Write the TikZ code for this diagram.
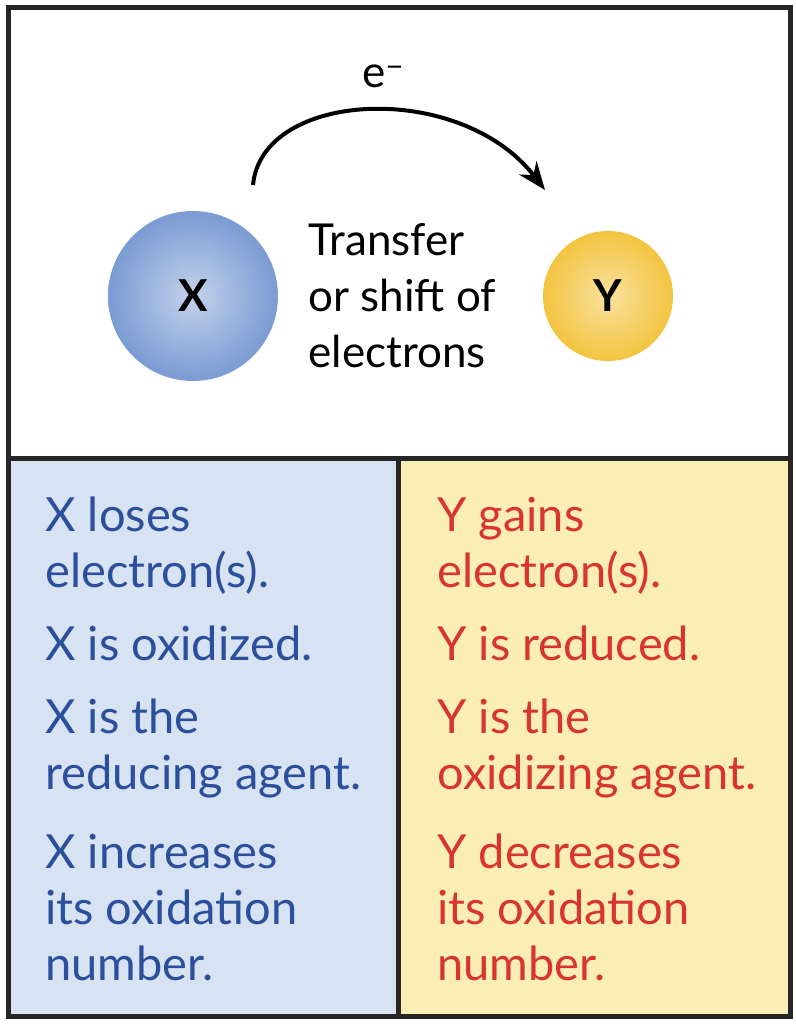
\documentclass[tikz,border=0pt]{standalone}
\usepackage{fontspec}
\setmainfont{Lato}
\usetikzlibrary{arrows.meta,positioning}
\definecolor{xblue}{HTML}{2B4F9C}
\definecolor{yred}{HTML}{D8352E}
\definecolor{panelblue}{HTML}{D7E2F2}
\definecolor{panelyellow}{HTML}{FBEEB2}
\definecolor{ballblue}{HTML}{7B9BD3}
\definecolor{ballyellow}{HTML}{F3C440}
\tikzset{
  txt/.style={anchor=base west,inner sep=0,font=\fontsize{23.5}{28}\selectfont,align=left},
  ball/.style={circle,inner sep=0,font=\fontsize{22}{26}\selectfont\bfseries}
}
\begin{document}
\begin{tikzpicture}[x=0.5pt,y=-0.5pt]
\useasboundingbox(0,0)rectangle(796,1026);
\fill[panelblue](8,458)rectangle(398,1016);
\fill[panelyellow](398,458)rectangle(790,1016);
\draw[line width=2.5pt,black!85](8,8)rectangle(790,1016);
\draw[line width=2.5pt,black!85](8,458)--(790,458);
\draw[line width=2.5pt,black!85](398,458)--(398,1016);
%% the two atoms
\node[ball,inner color=ballblue!45!white,outer color=ballblue,minimum size=85pt](X)at(193,296){X};
\node[ball,inner color=ballyellow!50!white,outer color=ballyellow,minimum size=65pt](Y)at(608,296){Y};
\node[txt,font=\fontsize{22}{28}\selectfont](tr)at(308,367){Transfer\\or shift of\\electrons};
\node[txt,font=\fontsize{22}{28}\selectfont](e)at(362,88){e\textsuperscript{\raisebox{-0.3ex}{\textminus}}};
\coordinate(A1)at(253,185);
\coordinate(A2)at(545,190);
\draw[line width=2pt,-{Stealth[length=14pt,width=11pt]}](A1)..controls(262,90)and(460,80)..(A2);
%% left panel
\begin{scope}[every node/.style={txt,text=xblue}]
\node(x1)at(45,587){X loses\\electron(s).};
\node(x2)at(45,660){X is oxidized.};
\node(x3)at(45,789){X is the\\reducing agent.};
\node(x4)at(45,980){X increases\\its oxidation\\number.};
\end{scope}
%% right panel
\begin{scope}[every node/.style={txt,text=yred}]
\node(y1)at(437,587){Y gains\\electron(s).};
\node(y2)at(437,660){Y is reduced.};
\node(y3)at(437,789){Y is the\\oxidizing agent.};
\node(y4)at(437,980){Y decreases\\its oxidation\\number.};
\end{scope}
\end{tikzpicture}
\end{document}
